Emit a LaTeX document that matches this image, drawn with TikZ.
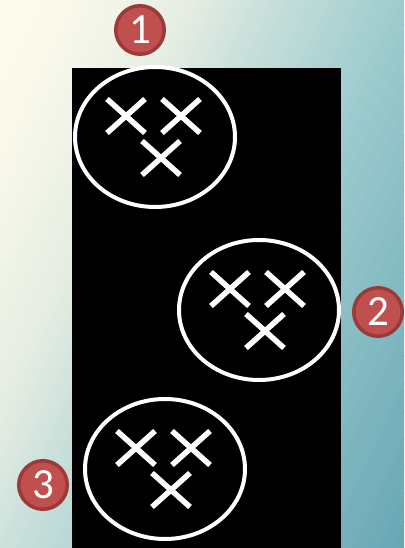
\documentclass[tikz,border=0pt]{standalone}
\usepackage{fontspec}
\usetikzlibrary{shapes.geometric}
\newfontfamily\carlito{Carlito}
\definecolor{bgA}{RGB}{253,252,238}
\definecolor{bgB}{RGB}{249,249,235}
\definecolor{bgC}{RGB}{228,236,226}
\definecolor{bgD}{RGB}{205,226,220}
\definecolor{bgE}{RGB}{158,204,206}
\definecolor{bgF}{RGB}{104,166,181}
\definecolor{badgefill}{RGB}{192,80,77}
\definecolor{badgeborder}{RGB}{155,58,56}
\tikzset{
  ring/.style={ellipse, draw=white, line width=4pt, inner sep=0pt, minimum width=160pt, minimum height=140pt},
  xmark/.style={draw=white, line width=5.5pt},
  badge/.style={circle, fill=badgefill, draw=badgeborder, line width=3.5pt, minimum size=48.5pt, inner sep=0pt, text=white, font=\carlito\fontsize{43}{43}\selectfont},
}
\begin{document}
\begin{tikzpicture}[x=1pt,y=1pt]
\useasboundingbox (0,0) rectangle (404,548);
% background gradient
\begin{scope}
\clip (0,0) rectangle (404,548);
\fill[bgA] (0,0) rectangle (404,548);
\begin{scope}[shift={(0,548)}, rotate=-25]
\foreach \fa/\fb/\ca/\cb in {0/0.12/bgA/bgB, 0.12/0.3/bgB/bgC, 0.3/0.39/bgC/bgD, 0.39/0.61/bgD/bgE, 0.61/1.0/bgE/bgF}{
  \foreach \j in {0,...,19}{
    \pgfmathsetmacro\xa{598*(\fa+(\fb-\fa)*\j/20)}
    \pgfmathsetmacro\xb{598*(\fa+(\fb-\fa)*(\j+1)/20)+0.8}
    \pgfmathsetmacro\pc{100*(\j+0.5)/20}
    \fill[fill=\cb!\pc!\ca] (\xa,-900) rectangle (\xb,900);
  }
}
\end{scope}
\end{scope}
% black panel
\fill[black] (72,0) rectangle (341,480);
% ellipses
\node[ring] (e1) at (155,411) {};
\node[ring] (e2) at (259,238) {};
\node[ring] (e3) at (165,79) {};
% crosses
\foreach \e in {e1,e2,e3}{
  \foreach \dx/\dy in {-29/21, 26/21, 6/-21}{
    \draw[xmark] ([shift={({\dx-19},{\dy-17})}]\e.center) -- ([shift={({\dx+19},{\dy+17})}]\e.center);
    \draw[xmark] ([shift={({\dx-19},{\dy+17})}]\e.center) -- ([shift={({\dx+19},{\dy-17})}]\e.center);
  }
}
% number badges
\node[badge] (n1) at (140,518) {1};
\node[badge] (n2) at (378,236) {2};
\node[badge] (n3) at (43,63) {3};
\end{tikzpicture}
\end{document}
